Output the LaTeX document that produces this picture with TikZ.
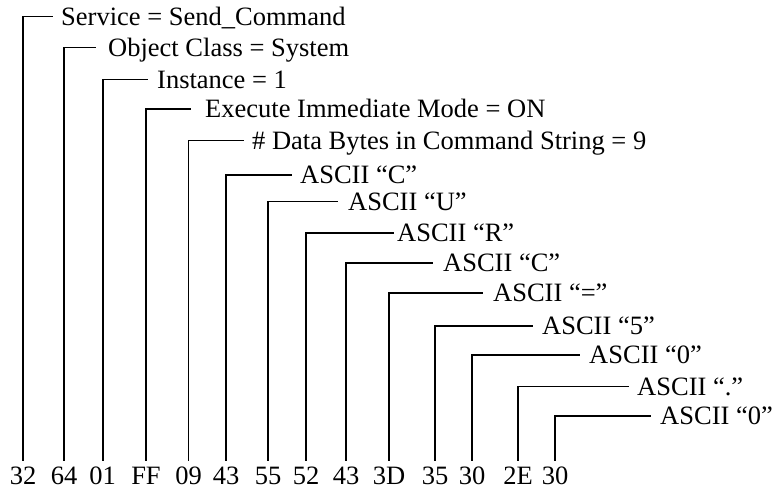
\documentclass[tikz,border=0pt]{standalone}
\usepackage{fontspec}
\setmainfont{Liberation Serif}
\begin{document}
\begin{tikzpicture}[x=1pt,y=-1pt,
  lbl/.style={anchor=west,inner sep=0pt,text height=17.6pt,text depth=0pt,font=\fontsize{26.5}{30}\selectfont},
  hexlbl/.style={anchor=base,inner sep=0pt,text height=17.6pt,text depth=0pt,outer ysep=6pt,font=\fontsize{26.5}{30}\selectfont},
  conn/.style={line width=1.6pt,line cap=rect}]
\useasboundingbox (0,0) rectangle (784,489);
\foreach \i/\vx/\yy/\tx/\gap/\txt/\hx in {
  0/23/16.7/61/9/{Service = Send\_Command}/32,
  1/64/47.7/108/13/{Object Class = System}/64,
  2/102.7/79.5/157/10/{Instance = 1}/01,
  3/146/109/205/15/{Execute Immediate Mode = ON}/FF,
  4/188.5/140.5/252/9/{\# Data Bytes in Command String = 9}/09,
  5/226/175/300/9/{ASCII “C”}/43,
  6/268/201.5/348/11/{ASCII “U”}/55,
  7/306/233/397/4/{ASCII “R”}/52,
  8/346/262.7/443/11/{ASCII “C”}/43,
  9/389/292.7/493/11/{ASCII “=”}/3D,
  10/435/326/542/10/{ASCII “5”}/35,
  11/472/355/589/10/{ASCII “0”}/30,
  12/518/386.5/637/9/{ASCII “.”}/2E,
  13/555/416/660/10/{ASCII “0”}/30}{
  \node[lbl] (t\i) at (\tx,\yy) {\txt};
  \node[hexlbl] (b\i) at (\vx,484) {\hx};
  \draw[conn] (b\i.north) |- ([xshift=-\gap pt]t\i.west);
}
\end{tikzpicture}
\end{document}
